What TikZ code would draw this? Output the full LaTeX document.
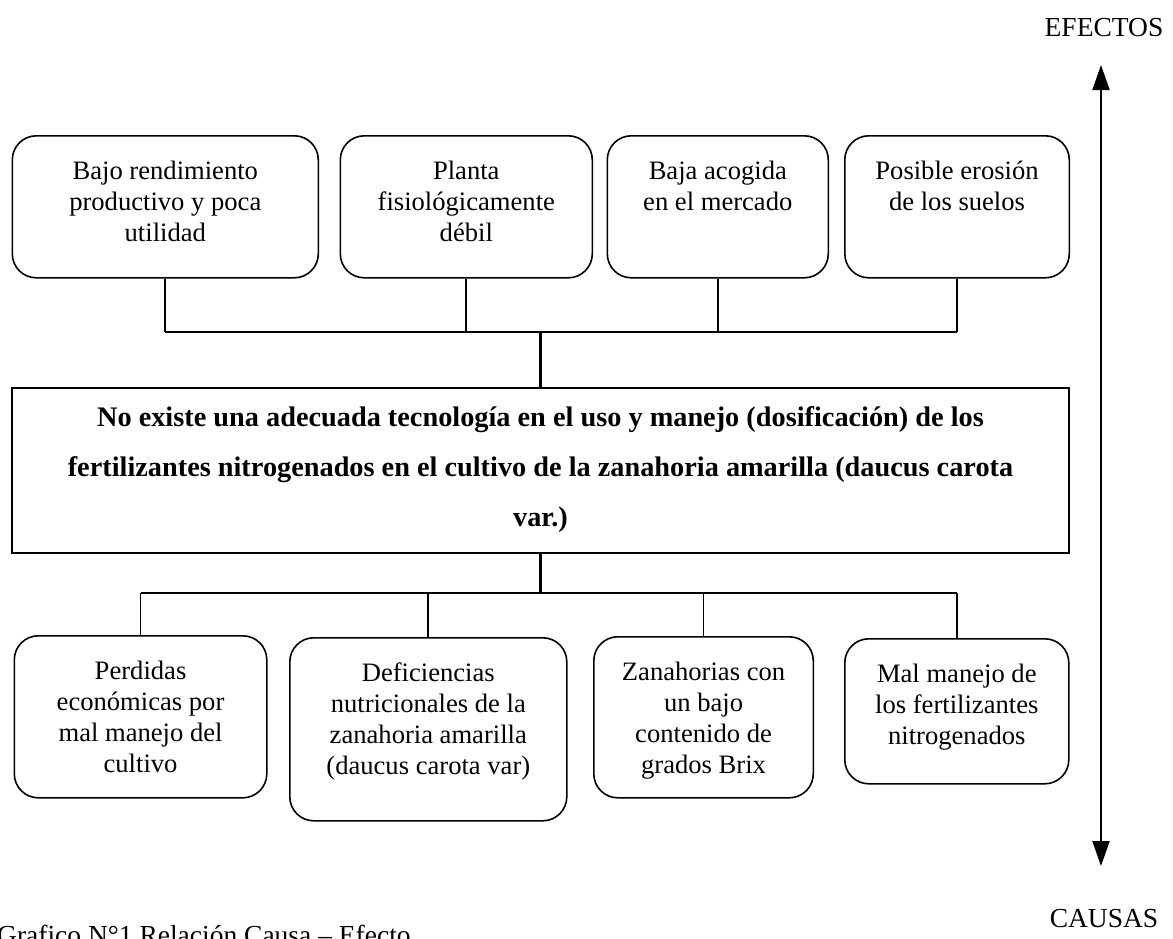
\documentclass[tikz,border=0pt]{standalone}
\usepackage{fontspec}
\setmainfont{Liberation Serif}
\usetikzlibrary{arrows.meta}
\tikzset{
  ebox/.style={draw, line width=1.6pt, rounded corners=24pt, inner sep=0pt, anchor=north west},
  cbox/.style={draw, line width=2pt, inner sep=0pt, anchor=north west},
  conn/.style={line width=1.8pt},
  mainconn/.style={line width=2.6pt},
  axis/.style={line width=2pt, {Triangle[length=25pt,width=17pt]}-{Triangle[length=25pt,width=17pt]}},
  lbl/.style={inner sep=0pt, font=\fontsize{27.5}{30}\selectfont},
}
\newcommand{\boxtxt}[3]{\parbox[c][#2][t]{#1}{\centering\fontsize{26.6}{31}\selectfont\vspace*{24pt}\rule{0pt}{20pt}#3\par}}
\begin{document}
\begin{tikzpicture}[x=1pt,y=-1pt]
\useasboundingbox (0,0) rectangle (1173,938);
% effects
\node[ebox] (t1) at (11.5,135) {\boxtxt{306pt}{142pt}{Bajo rendimiento\\productivo y poca\\utilidad}};
\node[ebox] (t2) at (339.5,135) {\boxtxt{252pt}{142pt}{Planta\\fisiológicamente\\débil}};
\node[ebox] (t3) at (606.5,135) {\boxtxt{221pt}{142pt}{Baja acogida\\en el mercado}};
\node[ebox] (t4) at (844,135) {\boxtxt{224.5pt}{142pt}{Posible erosión\\de los suelos}};
% central problem
\node[cbox] (c) at (11,387) {\parbox[c][165pt][t]{1057pt}{\centering\bfseries\fontsize{28.3}{50}\selectfont\vspace*{17pt}\rule{0pt}{21pt}No existe una adecuada tecnología en el uso y manejo (dosificación) de los\\fertilizantes nitrogenados en el cultivo de la zanahoria amarilla (daucus carota\\var.)\par}};
% causes
\node[ebox] (b1) at (13.5,635) {\boxtxt{252.5pt}{162pt}{Perdidas\\económicas por\\mal manejo del\\cultivo}};
\node[ebox] (b2) at (289,637) {\boxtxt{277pt}{183pt}{Deficiencias\\nutricionales de la\\zanahoria amarilla\\(daucus carota var)}};
\node[ebox] (b3) at (593,636) {\boxtxt{219.5pt}{161pt}{Zanahorias con\\un bajo\\contenido de\\grados Brix}};
\node[ebox] (b4) at (844,638) {\boxtxt{224pt}{145pt}{Mal manejo de\\los fertilizantes\\nitrogenados}};
% connectors
\coordinate (jt) at (c.north |- 0,332);
\coordinate (jb) at (c.south |- 0,593);
\draw[conn] (t1.south) -- (t1.south |- jt);
\draw[conn] (t2.south) -- (t2.south |- jt);
\draw[conn] (t3.south) -- (t3.south |- jt);
\draw[conn] (t4.south) -- (t4.south |- jt);
\draw[mainconn] (t1.south |- jt) -- (t4.south |- jt);
\draw[mainconn] (c.north) -- (jt);
\draw[mainconn] (c.south) -- (jb);
\draw[mainconn] (b1.north |- jb) -- (b3.north |- jb);
\draw[conn] (b3.north |- jb) -- (b4.north |- jb);
\draw[conn] (b1.north |- jb) -- (b1.north);
\draw[conn] (b2.north |- jb) -- (b2.north);
\draw[conn] (b3.north |- jb) -- (b3.north);
\draw[conn] (b4.north |- jb) -- (b4.north);
% axis
\node[lbl, anchor=base] (ef) at (1104,36) {EFECTOS};
\node[lbl, anchor=base] (ca) at (1104,927) {CAUSAS};
\coordinate (atop) at (1101,65);
\coordinate (abot) at (1101,866);
\draw[axis] (atop) -- (abot);
% caption
\node[inner sep=0pt, anchor=base west, font=\fontsize{27.5}{30}\selectfont] (cap) at (-3,944) {Grafico N°1 Relación Causa – Efecto};
\end{tikzpicture}
\end{document}
